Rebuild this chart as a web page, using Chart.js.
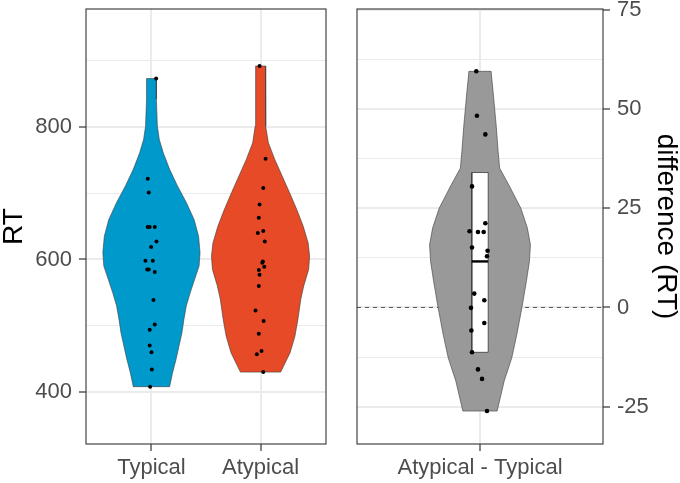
<!DOCTYPE html>
<html>
<head>
<meta charset="utf-8">
<script src="https://cdn.jsdelivr.net/npm/chart.js@4.4.0/dist/chart.umd.min.js"></script>
<style>
  html, body { margin: 0; padding: 0; background: #fff; }
  #wrap { position: relative; width: 680px; height: 483px; }
  canvas { position: absolute; top: 0; }
  #rtChart { left: 0; }
  #diffChart { left: 340px; }
</style>
</head>
<body>
<div id="wrap">
  <canvas id="rtChart" width="340" height="483"></canvas>
  <canvas id="diffChart" width="340" height="483"></canvas>
</div>
<script>
const groups = ['Typical', 'Atypical'];
const diffGroup = ['Atypical - Typical'];

// individual RTs, with the horizontal jitter (category units)
const typicalRT = [873, 722, 701, 649, 649, 649, 627, 619, 598, 598, 585, 585, 581, 539, 502, 494, 470, 460, 434, 408];
const typicalJitter = [0.043, -0.034, -0.025, -0.034, -0.016, 0.030, 0.046, -0.003, -0.055, 0.012, -0.039, -0.025, 0.030, 0.018, 0.030, -0.016, -0.016, 0, 0.003, -0.012];
const atypicalRT = [892, 752, 708, 683, 663, 640, 643, 627, 597, 595, 589, 584, 577, 560, 523, 507, 488, 462, 457, 430];
const atypicalJitter = [-0.009, 0.046, 0.025, -0.009, -0.016, -0.025, 0.025, 0.039, 0.021, 0.016, 0.034, -0.016, -0.009, -0.016, -0.046, 0.028, -0.016, 0.009, -0.034, 0.025];
const diffRT = [59.5, 48.3, 43.6, 30.5, 21.2, 19.2, 19.0, 19.0, 15.1, 14.3, 12.9, 3.5, 1.8, -0.1, -3.9, -5.8, -11.3, -15.6, -18.0, -26.1];
const diffJitter = [-0.018, -0.015, 0.026, -0.039, 0.026, -0.051, -0.010, 0.018, -0.039, 0.037, 0.034, -0.028, 0.021, -0.044, 0.021, -0.042, -0.039, -0.010, 0.010, 0.034];

// violin outlines: level and relative density (1 = widest)
const typicalLevels = [873, 842, 801, 781, 761, 736, 711, 686, 660, 635, 610, 590, 570, 550, 530, 509, 489, 469, 449, 429, 408];
const typicalDensity = [0.10, 0.10, 0.12, 0.16, 0.24, 0.37, 0.53, 0.71, 0.87, 0.96, 0.99, 0.97, 0.88, 0.79, 0.71, 0.66, 0.62, 0.56, 0.50, 0.43, 0.37];
const atypicalLevels = [892, 864, 801, 776, 751, 726, 701, 675, 650, 625, 605, 585, 560, 540, 509, 484, 459, 430];
const atypicalDensity = [0.10, 0.10, 0.11, 0.16, 0.29, 0.44, 0.59, 0.74, 0.87, 0.97, 1.0, 0.98, 0.88, 0.82, 0.76, 0.70, 0.60, 0.41];
const diffLevels = [59.5, 54.3, 46, 39.3, 35.1, 30.9, 25, 20, 15.8, 11.6, 6.6, -0.1, -6.8, -12.7, -18.5, -26.1];
const diffDensity = [0.22, 0.26, 0.32, 0.36, 0.39, 0.57, 0.81, 0.94, 1.0, 0.98, 0.92, 0.83, 0.73, 0.63, 0.48, 0.34];
const diffBox = [-11.3, 11.6, 34.0]; // lower, mean, upper

const rtTicks = [400, 600, 800];
const rtMinor = [500, 700, 900];
const diffTicks = [-25, 0, 25, 50, 75];
const diffMinor = [-12.5, 12.5, 37.5, 62.5];

Chart.defaults.font.family = "'Liberation Sans', Arial, sans-serif";

const FRAME = '#333333';
const GRID = '#EBEBEB';
const TICK_TEXT = '#4D4D4D';

// closed outline: right side top->bottom, left side bottom->top
function violinOutline(center, levels, density, halfWidth) {
  const right = levels.map((v, i) => ({ x: center + density[i] * halfWidth, y: v }));
  const left = levels.map((v, i) => ({ x: center - density[i] * halfWidth, y: v })).reverse();
  return right.concat(left, [right[0]]);
}

function jittered(center, values, jitter) {
  return values.map((v, i) => ({ x: center + jitter[i], y: v }));
}

const panelFrame = {
  id: 'panelFrame',
  afterDatasetsDraw(chart) {
    const { ctx, chartArea: a } = chart;
    ctx.save();
    ctx.strokeStyle = FRAME;
    ctx.lineWidth = 1.1;
    ctx.strokeRect(a.left, a.top, a.right - a.left, a.bottom - a.top);
    ctx.restore();
  }
};

function valueAxis(opts) {
  const { ticks, minor, min, max, position, width, title } = opts;
  return {
    type: 'linear',
    position: position,
    min: min,
    max: max,
    afterBuildTicks: s => { s.ticks = ticks.concat(minor).sort((a, b) => a - b).map(v => ({ value: v })); },
    afterFit: s => { s.width = width; s.paddingTop = 0; s.paddingBottom = 0; },
    border: { display: false },
    grid: {
      color: GRID,
      lineWidth: c => ticks.includes(c.tick.value) ? 2 : 1,
      tickColor: c => ticks.includes(c.tick.value) ? FRAME : 'rgba(0,0,0,0)',
      tickLength: 7,
      tickWidth: 1.2
    },
    ticks: {
      autoSkip: false,
      padding: 7,
      color: TICK_TEXT,
      font: { size: 22 },
      callback: v => ticks.includes(v) ? String(v) : ''
    },
    title: {
      display: true,
      text: title,
      color: '#000',
      padding: 0,
      font: { size: 28, lineHeight: 1.0 }
    }
  };
}

function groupAxis(labels, min, max) {
  return {
    type: 'linear',
    position: 'bottom',
    min: min,
    max: max,
    afterBuildTicks: s => { s.ticks = labels.map((l, i) => ({ value: i + 1 })); },
    afterFit: s => { s.height = 39; s.paddingLeft = 0; s.paddingRight = 0; },
    border: { display: false },
    grid: { color: GRID, lineWidth: 2, tickColor: FRAME, tickLength: 7, tickWidth: 1.2 },
    ticks: {
      autoSkip: false,
      maxRotation: 0,
      padding: 4,
      color: TICK_TEXT,
      font: { size: 22 },
      callback: v => labels[v - 1]
    }
  };
}

const common = {
  responsive: false,
  animation: false,
  devicePixelRatio: 1,
  plugins: { legend: { display: false }, tooltip: { enabled: false } },
  elements: { line: { tension: 0 } }
};

function points(data) {
  return { data: data, showLine: false, pointRadius: 2, pointBackgroundColor: '#000', pointBorderWidth: 0, order: 0 };
}

function violin(data, color) {
  return { data: data, showLine: true, fill: 'shape', backgroundColor: color, borderColor: '#3a3a3a', borderWidth: 0.6, pointRadius: 0, order: 3 };
}

new Chart(document.getElementById('rtChart'), {
  type: 'scatter',
  data: {
    datasets: [
      points(jittered(1, typicalRT, typicalJitter)),
      points(jittered(2, atypicalRT, atypicalJitter)),
      violin(violinOutline(1, typicalLevels, typicalDensity, 0.45), '#0099CC'),
      violin(violinOutline(2, atypicalLevels, atypicalDensity, 0.45), '#E64A26')
    ]
  },
  options: Object.assign({}, common, {
    layout: { padding: { top: 9, right: 14, left: 0, bottom: 0 } },
    scales: {
      x: groupAxis(groups, 0.4, 2.6),
      y: valueAxis({ ticks: rtTicks, minor: rtMinor, min: 321.5, max: 978, position: 'left', width: 86, title: 'RT' })
    }
  }),
  plugins: [panelFrame]
});

const boxHalf = 0.04;
new Chart(document.getElementById('diffChart'), {
  type: 'scatter',
  data: {
    datasets: [
      Object.assign(points(jittered(1, diffRT, diffJitter)), { pointRadius: 2.3 }),
      { // mean line
        data: [{ x: 1 - boxHalf, y: diffBox[1] }, { x: 1 + boxHalf, y: diffBox[1] }],
        showLine: true, borderColor: '#000', borderWidth: 2.4, pointRadius: 0, order: 1
      },
      { // interval box
        data: [
          { x: 1 - boxHalf, y: diffBox[0] }, { x: 1 + boxHalf, y: diffBox[0] },
          { x: 1 + boxHalf, y: diffBox[2] }, { x: 1 - boxHalf, y: diffBox[2] },
          { x: 1 - boxHalf, y: diffBox[0] }
        ],
        showLine: true, fill: 'shape', backgroundColor: '#fff', borderColor: '#3a3a3a', borderWidth: 0.8, pointRadius: 0, order: 2
      },
      violin(violinOutline(1, diffLevels, diffDensity, 0.246), '#999999'),
      { // zero reference
        data: [{ x: 0.4, y: 0 }, { x: 1.6, y: 0 }],
        showLine: true, borderColor: '#555', borderWidth: 1, borderDash: [4, 4], pointRadius: 0, order: 4
      }
    ]
  },
  options: Object.assign({}, common, {
    layout: { padding: { top: 9, right: 0, left: 17, bottom: 0 } },
    scales: {
      x: groupAxis(diffGroup, 0.4, 1.6),
      y: valueAxis({ ticks: diffTicks, minor: diffMinor, min: -34.4, max: 75.2, position: 'right', width: 77, title: 'difference (RT)' })
    }
  }),
  plugins: [panelFrame]
});
</script>
</body>
</html>
